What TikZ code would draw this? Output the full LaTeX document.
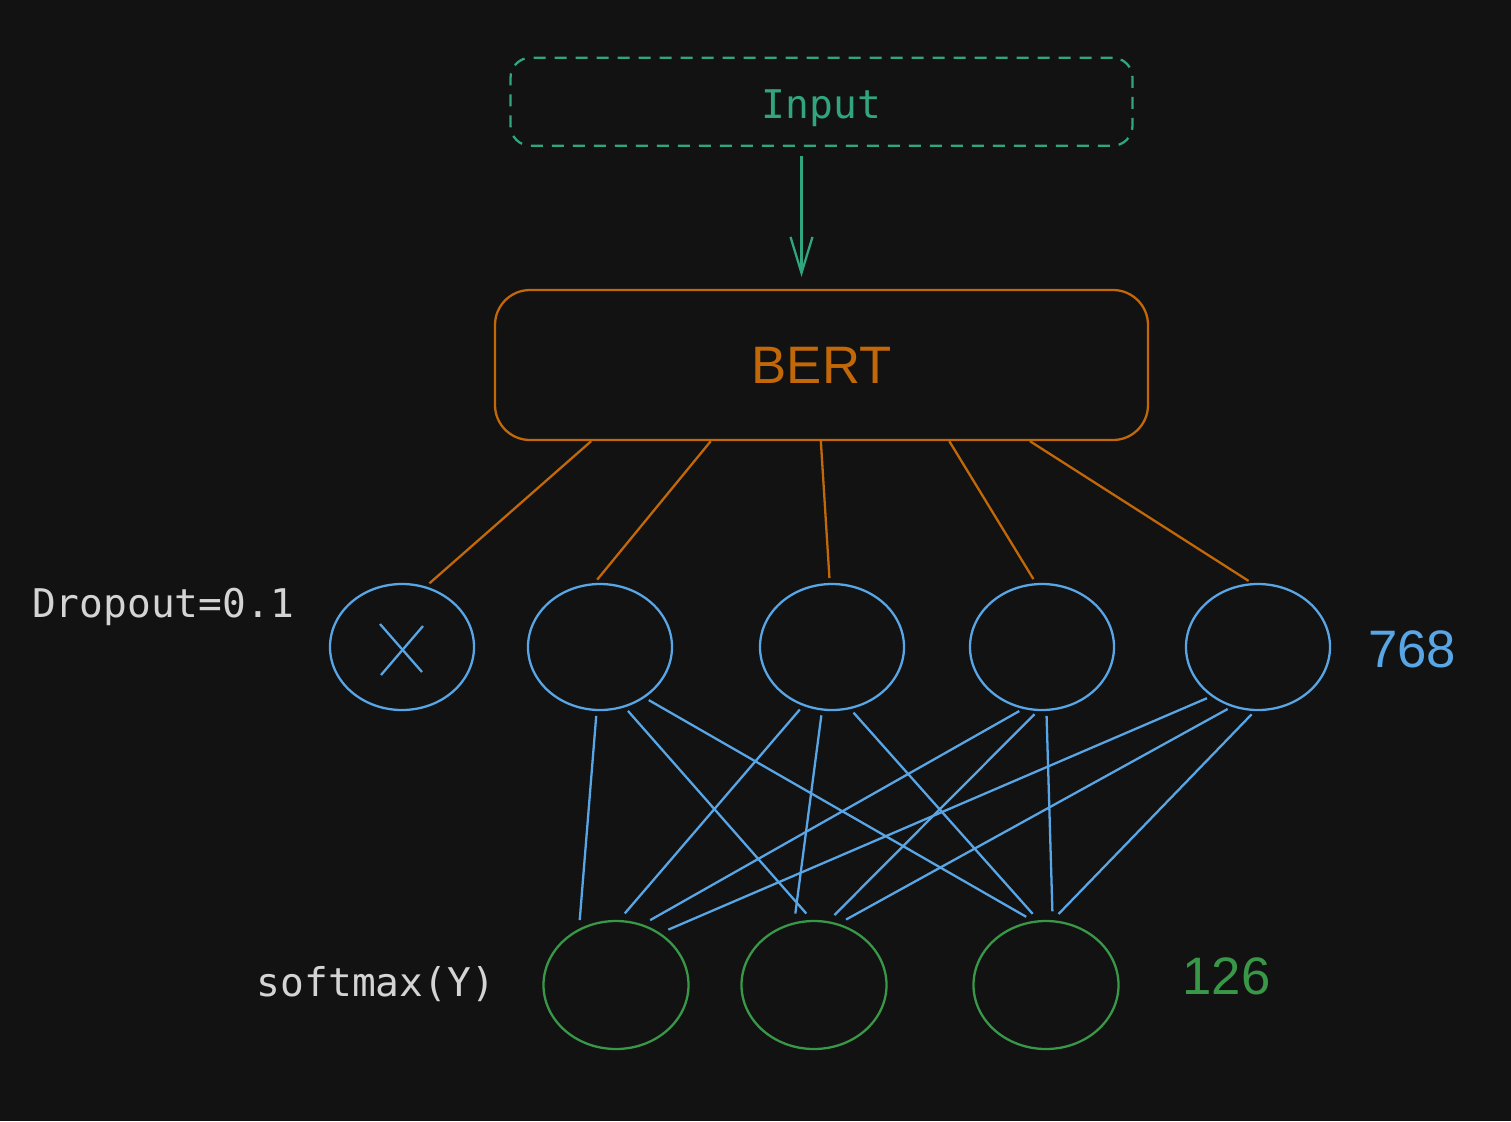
\documentclass[tikz,border=0pt]{standalone}
\usepackage{fontspec}
\setmainfont{Liberation Sans}
\setmonofont{DejaVu Sans Mono}
\usetikzlibrary{positioning}
\usetikzlibrary{calc}
\usetikzlibrary{arrows.meta}
\usetikzlibrary{shapes.geometric}
\definecolor{bgdark}{RGB}{18,18,18}
\definecolor{inteal}{RGB}{49,165,126}
\definecolor{bertorange}{RGB}{194,104,8}
\definecolor{unitblue}{RGB}{88,166,230}
\definecolor{outgreen}{RGB}{56,152,72}
\definecolor{textgray}{RGB}{212,212,212}

\begin{document}
\begin{tikzpicture}[
    node distance=1.4cm and 1.4cm,
    block/.style={rectangle, draw=bertorange, rounded corners=0.7cm, line width=1.3pt,
                  minimum width=13.06cm, minimum height=3cm, text=bertorange,
                  font=\fontsize{30}{36}\selectfont},
    inbox/.style={rectangle, draw=inteal, dash pattern=on 0.24cm off 0.18cm, rounded corners=0.4cm,
                  line width=1.3pt, minimum width=12.44cm, minimum height=1.76cm, text=inteal,
                  text depth=0pt, font=\ttfamily\fontsize{22.5}{27}\selectfont},
    unit/.style={ellipse, draw=unitblue, line width=1.3pt, minimum width=2.88cm, minimum height=2.52cm,
                 inner sep=0pt, outer sep=0pt},
    outunit/.style={unit, draw=outgreen, minimum width=2.9cm, minimum height=2.56cm},
    arrow/.style={-{Straight Barb[length=0.72cm,width=0.44cm]}, line width=1.3pt, draw=inteal},
    feed/.style={line width=1.3pt, draw=bertorange, shorten >=0.12cm},
    link/.style={line width=1.3pt, draw=unitblue, shorten <=0.12cm, shorten >=0.2cm},
    note/.style={text=textgray, font=\ttfamily\fontsize{22.5}{27}\selectfont},
    sizelabel/.style={font=\fontsize{30}{36}\selectfont}
]
    \fill[bgdark] (0,0) rectangle (30.22,-22.42);
    \useasboundingbox (0,0) rectangle (30.22,-22.42);

    \node[block] (bert) at (16.43,-7.3) {BERT};
    \node[inbox, above=2.84cm of bert] (input) {\raisebox{-0.1cm}{Input}};

    \node[unit] (b1) at (8.04,-12.94) {};
    \node[unit, right=1.08cm of b1] (b2) {};
    \node[unit, right=1.76cm of b2] (b3) {};
    \node[unit, right=1.32cm of b3] (b4) {};
    \node[unit, right=1.44cm of b4] (b5) {};

    \node[outunit] (g1) at (12.32,-19.7) {};
    \node[outunit, right=1.06cm of g1] (g2) {};
    \node[outunit, right=1.74cm of g2] (g3) {};

    \node[note] (drop) at (3.26,-12.13) {Dropout=0.1};
    \node[note] (soft) at (7.52,-19.69) {softmax(Y)};
    \node[sizelabel, text=unitblue] (hidden) at (28.24,-12.98) {768};
    \node[sizelabel, text=outgreen] (classes) at (24.53,-19.52) {126};

    \draw[arrow, shorten <=0.18cm, shorten >=0.24cm] ([xshift=-0.4cm]input.south) -- ([xshift=-0.4cm]bert.north);

    \draw[feed] ($(bert.south west)!0.1485!(bert.south east)$) -- (b1.69);
    \draw[feed] ($(bert.south west)!0.331!(bert.south east)$) -- (b2.96);
    \draw[feed] ($(bert.south west)!0.499!(bert.south east)$) -- (b3.92);
    \draw[feed] ($(bert.south west)!0.695!(bert.south east)$) -- (b4.95);
    \draw[feed] ($(bert.south west)!0.818!(bert.south east)$) -- (b5.94);

    \draw[unitblue, line width=1.3pt] ([shift={(-0.44,0.46)}]b1.center) -- ([shift={(0.4,-0.5)}]b1.center);
    \draw[unitblue, line width=1.3pt] ([shift={(0.42,0.42)}]b1.center) -- ([shift={(-0.42,-0.56)}]b1.center);

    \draw[link] (b2.267) -- (g1.124);
    \draw[link] (b2.292) -- (g2.91);
    \draw[link] (b2.311) -- (g3.100);
    \draw[link] (b3.244) -- (g1.88);
    \draw[link] (b3.261) -- (g2.108);
    \draw[link] (b3.286) -- (g3.96);
    \draw[link] (b4.254) -- (g1.67);
    \draw[link] (b4.267) -- (g2.78);
    \draw[link] (b4.274) -- (g3.84);
    \draw[link] (b5.227) -- (g1.50);
    \draw[link] (b5.247) -- (g2.69);
    \draw[link] (b5.268) -- (g3.85);
\end{tikzpicture}
\end{document}
